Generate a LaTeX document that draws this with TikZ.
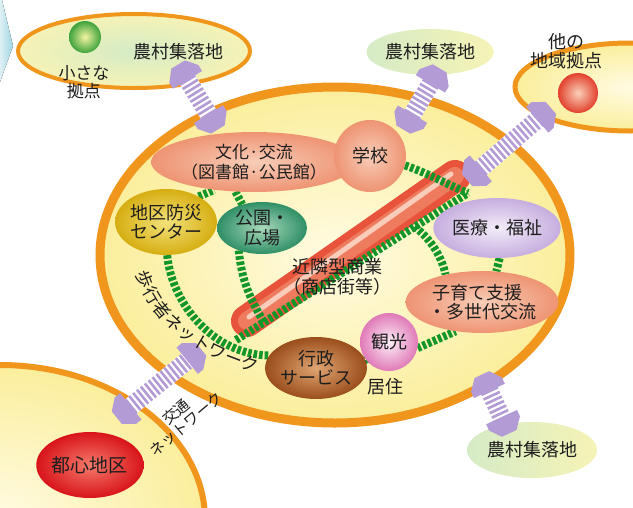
\documentclass[tikz,border=0pt]{standalone}
\usepackage{fontspec}
\setmainfont{Noto Sans CJK JP}
\usetikzlibrary{shapes.geometric,decorations.markings,decorations.text,calc}
\pgfdeclarelayer{back}
\pgfdeclarelayer{mid}
\pgfsetlayers{back,mid,main}
\definecolor{ink}{HTML}{1E1E1E}
\definecolor{orng}{HTML}{F0961C}
\definecolor{yelO}{HTML}{FBEE9C}
\definecolor{yelI}{HTML}{FFFBE2}
\definecolor{netg}{HTML}{12962A}
\definecolor{purp}{HTML}{B39BD6}
\definecolor{cyanC}{HTML}{9FD5E2}
\definecolor{salO}{HTML}{EE9473}
\definecolor{salI}{HTML}{F8CDB8}
\definecolor{goldO}{HTML}{D6AE12}
\definecolor{goldI}{HTML}{F3E27A}
\definecolor{tealO}{HTML}{2F8F66}
\definecolor{tealI}{HTML}{A8D9BC}
\definecolor{lavO}{HTML}{C6AEDF}
\definecolor{lavI}{HTML}{F3ECF8}
\definecolor{pinkO}{HTML}{E07AB8}
\definecolor{pinkI}{HTML}{FCEFF6}
\definecolor{brnO}{HTML}{9A4E1C}
\definecolor{brnI}{HTML}{E0A572}
\definecolor{redO}{HTML}{D8141A}
\definecolor{redI}{HTML}{F57A6A}
\definecolor{barR}{HTML}{E8533B}
\definecolor{barM}{HTML}{EF7B5F}
\definecolor{barL}{HTML}{F9CDB9}
\definecolor{vilL}{HTML}{D5EBC6}
\definecolor{vilR}{HTML}{F6F3B6}
\definecolor{gbO}{HTML}{3EA33C}
\definecolor{gbI}{HTML}{F4F4A0}
\definecolor{rbO}{HTML}{E2412E}
\definecolor{rbI}{HTML}{FAD0B8}
\begin{document}
\begin{tikzpicture}[x=1pt,y=-1pt,
  every node/.style={text=ink},
  txt/.style={font=\fontsize{18}{19.5}\selectfont, align=center, inner sep=0pt},
  bubble/.style={ellipse, inner sep=0pt, align=center, font=\fontsize{18}{19.5}\selectfont},
  region/.style={ellipse, draw=orng, inner sep=0pt},
  net/.style={draw=netg, line width=8pt, dash pattern=on 3.6pt off 2pt},
  twoway/.style={postaction={decorate}, decoration={markings,
     mark=at position 0 with {\fill[purp] (1pt,-17pt) -- (-6pt,-17pt) -- (-17pt,-8pt) -- (-17pt,8pt) -- (-6pt,17pt) -- (1pt,17pt) -- cycle;},
     mark=at position 1 with {\fill[purp] (-1pt,-17pt) -- (6pt,-17pt) -- (17pt,-8pt) -- (17pt,8pt) -- (6pt,17pt) -- (-1pt,17pt) -- cycle;}}},
  purpconn/.style={draw=purp, line width=18pt, dash pattern=on 2.6pt off 2.4pt,
     preaction={draw=white, solid, line width=18pt}, twoway}
]
\useasboundingbox (0,0) rectangle (633,507);
% ---------- regions (background) ----------
\begin{pgfonlayer}{back}
\fill[white] (0,0) rectangle (633,507);
\clip (0,0) rectangle (633,507);
\fill[left color=cyanC!35, right color=cyanC] (0,0) -- (2,0) -- (13,46) -- (0,82) -- cycle;
\node[region, line width=4pt, minimum width=232pt, minimum height=74pt, inner color=vilL, outer color=vilR] (hamlet) at (134,51) {};
\node[region, line width=5pt, minimum width=230pt, minimum height=88pt, inner color=yelI, outer color=yelO] (otherhub) at (630,87) {};
\node[region, line width=6pt, minimum width=410pt, minimum height=310pt, inner color=yelI, outer color=yelO] (downtown) at (0,520) {};
\node[region, line width=9pt, minimum width=470pt, minimum height=336pt, inner color=yelI, outer color=yelO] (city) at (335,255) {};
% shopping street bar
\coordinate (barA) at (247,321);
\coordinate (barB) at (455,176);
\draw[line width=32pt, line cap=round, draw=barR] (barA) -- (barB);
\draw[line width=18pt, line cap=round, draw=barM] (barA) -- (barB);
\draw[line width=5pt, line cap=round, draw=barL] ($(barA)+(2,-4)$) -- ($(barB)+(-4,-2)$);
\end{pgfonlayer}
% ---------- nodes ----------
\node[circle, minimum size=32pt, inner sep=0pt, inner color=gbI, outer color=gbO] (gball) at (85,37) {};
\node[circle, minimum size=40pt, inner sep=0pt, inner color=rbI, outer color=rbO] (rball) at (578,93) {};
\node[txt, font=\fontsize{17}{18}\selectfont] (small) at (84,82) {小さな\\拠点};
\node[txt] (vtl) at (178,52) {農村集落地};
\node[txt, font=\fontsize{18}{18.5}\selectfont] (otherlbl) at (566,51) {他の\\地域拠点};
\node[bubble, minimum width=126pt, minimum height=46pt, left color=vilL, right color=vilR] (vtop) at (430,52) {農村集落地};
\node[bubble, minimum width=130pt, minimum height=56pt, left color=vilL, right color=vilR] (vbot) at (532,450) {農村集落地};
\node[bubble, minimum width=94pt, minimum height=66pt, inner color=redI, outer color=redO, font=\fontsize{19}{20}\selectfont] (toshin) at (90,465) {都心地区};

\node[bubble, minimum width=106pt, minimum height=60pt, inner color=salI, outer color=salO, font=\fontsize{17}{19.5}\selectfont] (bunka) at (254,162) {文化·交流\\（図書館·公民館）};
\node[circle, inner sep=0pt, minimum size=72pt, inner color=salI, outer color=salO, font=\fontsize{18}{19.5}\selectfont] (school) at (370,156) {学校};
\node[bubble, minimum width=98pt, minimum height=66pt, inner color=goldI, outer color=goldO] (bousai) at (166,222) {地区防災\\センター};
\node[bubble, minimum width=90pt, minimum height=52pt, inner color=tealI, outer color=tealO] (kouen) at (262,228) {公園・\\広場};
\node[bubble, minimum width=110pt, minimum height=60pt, inner color=lavI, outer color=lavO] (iryou) at (497,228) {医療・福祉};
\node[bubble, align=left, minimum width=110pt, minimum height=62pt, inner color=salI, outer color=salO] (kosodate) at (482,302) {\ 子育て支援\\・多世代交流};
\node[circle, inner sep=0pt, minimum size=58pt, inner color=pinkI, outer color=pinkO, font=\fontsize{18}{19.5}\selectfont] (kankou) at (389,342) {観光};
\node[bubble, minimum width=78pt, minimum height=62pt, inner color=brnI, outer color=brnO] (gyousei) at (316,368) {行政\\サービス};
\node[txt] (shop) at (337,277) {近隣型商業\\（商店街等）};
\node[txt] (kyojuu) at (385,387) {居住};

% ---------- pedestrian network ----------
\coordinate (j0) at (236,340);
\coordinate (j1) at (468,193);
\begin{pgfonlayer}{mid}
\draw[net] (bunka.10) -- (school.172);
\draw[net] (school.-15) .. controls (430,174) and (448,185) .. (j1);
\draw[net] (j0) -- (j1);
\draw[net] ($(j0)!0.77!(j1)$) .. controls (432,240) and (442,258) .. (kosodate.143);
\draw[net] (iryou.-85) -- (kosodate.65);
\draw[net] (kankou.-12) -- (kosodate.228);
\draw[net] (gyousei.5) -- (kankou.210);
\draw[net] (bousai.-88) .. controls (172,305) and (215,355) .. (gyousei.165);
\draw[net] (bousai.38) -- (bunka.215);
\draw[net] (bunka.238) -- (kouen.130);
\draw[net] (kouen.224) .. controls (242,282) and (250,298) .. ($(j0)!0.12!(j1)$);
\end{pgfonlayer}

% ---------- two-way links ----------
\coordinate (a1s) at (187,79);  \coordinate (a1e) at (209,115);
\coordinate (a2s) at (431,83);  \coordinate (a2e) at (412,115);
\coordinate (a3s) at (480,169); \coordinate (a3e) at (538,119);
\coordinate (a4s) at (489,390); \coordinate (a4e) at (502,418);
\coordinate (a5s) at (130,407); \coordinate (a5e) at (188,360);
\draw[purpconn] (a1s) -- (a1e);
\draw[purpconn] (a2s) -- (a2e);
\draw[purpconn] (a3s) -- (a3e);
\draw[purpconn] (a4s) -- (a4e);
\draw[purpconn] (a5s) -- (a5e);

% ---------- curved and rotated labels ----------
\path[decorate, decoration={text along path, text align=center, raise=-6pt,
   text={|\fontsize{17.5}{17.5}\selectfont\color{ink}|歩行者ネットワーク}}]
   (139,262) .. controls (148,312) and (195,352) .. (268,369);
\node[txt, font=\fontsize{15}{16}\selectfont, rotate=40] (traffic) at (181,418) {交通\\ネットワーク};
\end{tikzpicture}
\end{document}
